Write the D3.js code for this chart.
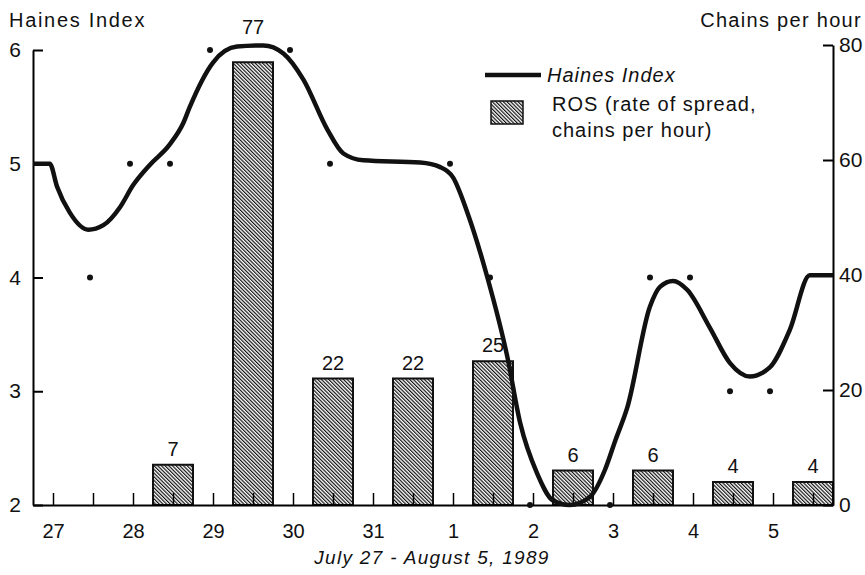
<!DOCTYPE html>
<html>
<head>
<meta charset="utf-8">
<script src="https://cdn.jsdelivr.net/npm/d3@7"></script>
<style>
  body { margin: 0; background: #fff; }
  text { font-family: "Liberation Sans", Arial, Helvetica, sans-serif; fill: #111; }
</style>
</head>
<body>
<div id="chart"></div>
<script>
// day labels, placed at t = 0, 1, 2 ... (days since July 27)
const dayLabels = ['27', '28', '29', '30', '31', '1', '2', '3', '4', '5'];

// ROS bars (chains per hour), centred at mid-day
const rosDays = [1.5, 2.5, 3.5, 4.5, 5.5, 6.5, 7.5, 8.5, 9.5];
const rosValues = [7, 77, 22, 22, 25, 6, 6, 4, 4];

// observed Haines index readings (dots)
const obsDays = [0.5, 1, 1.5, 2, 3, 3.5, 5, 5.5, 6, 7, 7.5, 8, 8.5, 9];
const obsValues = [4, 5, 5, 6, 6, 5, 5, 4, 2, 2, 4, 4, 3, 3];

// smoothed Haines index curve
const curveDays = [-0.25, -0.04, 0.05, 0.21, 0.44, 0.63, 0.84, 1.0, 1.21, 1.46, 1.63, 1.71, 2.0, 2.3, 2.63,
  2.88, 3.13, 3.43, 3.63, 3.88, 4.59, 4.84, 5.0, 5.18, 5.43, 5.68, 5.84, 6.05, 6.25, 6.46, 6.71, 6.9,
  7.03, 7.18, 7.46, 7.59, 7.75, 7.93, 8.21, 8.46, 8.71, 8.96, 9.21, 9.46, 9.75];
const curveValues = [5.0, 5.0, 4.8, 4.57, 4.42, 4.46, 4.62, 4.81, 4.99, 5.17, 5.36, 5.5, 5.89, 6.03, 6.04,
  5.97, 5.74, 5.3, 5.09, 5.03, 5.01, 4.97, 4.88, 4.57, 4.0, 3.3, 2.72, 2.28, 2.04, 2.0, 2.07, 2.31,
  2.57, 2.86, 3.74, 3.92, 3.97, 3.89, 3.56, 3.25, 3.13, 3.21, 3.54, 4.02, 4.02];

const haTicks = [2, 3, 4, 5, 6];
const rosTicks = [0, 20, 40, 60, 80];

const W = 865, H = 575;
const svg = d3.select('#chart').append('svg').attr('width', W).attr('height', H);

// hatch pattern
const defs = svg.append('defs');
defs.append('pattern')
  .attr('id', 'hatch')
  .attr('patternUnits', 'userSpaceOnUse')
  .attr('width', 2.6)
  .attr('height', 10)
  .attr('patternTransform', 'rotate(-45)')
  .call(p => {
    p.append('rect').attr('width', 2.6).attr('height', 10).attr('fill', '#fff');
    p.append('line').attr('x1', 0.6).attr('x2', 0.6).attr('y1', 0).attr('y2', 10)
      .attr('stroke', '#111').attr('stroke-width', 1.2);
  });

const x = d3.scaleLinear().domain([-0.25, 9.75]).range([33, 833]);
const yHa = d3.scaleLinear().domain([2, 6]).range([505, 50]);
const yRos = d3.scaleLinear().domain([0, 80]).range([505, 45]);

// bars
svg.append('g')
  .selectAll('rect')
  .data(rosDays)
  .join('rect')
  .attr('x', d => x(d - 0.25))
  .attr('width', x(0.5) - x(0))
  .attr('y', (d, i) => yRos(rosValues[i]))
  .attr('height', (d, i) => yRos(0) - yRos(rosValues[i]))
  .attr('fill', 'url(#hatch)')
  .attr('stroke', '#111')
  .attr('stroke-width', 2);

// bar labels
svg.append('g')
  .selectAll('text')
  .data(rosDays)
  .join('text')
  .attr('x', d => x(d))
  .attr('y', (d, i) => rosValues[i] > 70 ? 34 : yRos(rosValues[i]) - 9)
  .attr('text-anchor', 'middle')
  .style('font-size', '20px')
  .text((d, i) => rosValues[i]);

// x axis
const xTicks = d3.range(0, 10, 0.5);
const axisX = d3.axisBottom(x)
  .tickValues(xTicks)
  .tickSize(-12)
  .tickSizeOuter(0)
  .tickPadding(19)
  .tickFormat(d => Number.isInteger(d) ? dayLabels[d] : '');
svg.append('g')
  .attr('transform', `translate(0,${yHa(2)})`)
  .call(axisX)
  .call(g => g.select('.domain').attr('stroke-width', 2))
  .call(g => g.selectAll('.tick line').attr('stroke-width', 1.5))
  .call(g => g.selectAll('text').style('font-size', '20px').attr('fill', '#111'));

// left axis
svg.append('g')
  .attr('transform', `translate(${x(-0.25)},0)`)
  .call(d3.axisLeft(yHa).tickValues(haTicks).tickSize(-10).tickSizeOuter(0).tickPadding(12).tickFormat(d3.format('d')))
  .call(g => g.select('.domain').attr('stroke-width', 2))
  .call(g => g.selectAll('.tick line').attr('stroke-width', 2))
  .call(g => g.selectAll('text').style('font-size', '21px').attr('fill', '#111'));

// right axis
svg.append('g')
  .attr('transform', `translate(${x(9.75)},0)`)
  .call(d3.axisRight(yRos).tickValues(rosTicks).tickSize(-10).tickSizeOuter(0).tickPadding(6).tickFormat(d3.format('d')))
  .call(g => g.select('.domain').attr('stroke-width', 2))
  .call(g => g.selectAll('.tick line').attr('stroke-width', 2))
  .call(g => g.selectAll('text').style('font-size', '21px').attr('fill', '#111'));

// Haines index curve
const line = d3.line()
  .x(d => x(d[0]))
  .y(d => yHa(d[1]))
  .curve(d3.curveMonotoneX);
svg.append('path')
  .datum(curveDays.map((d, i) => [d, curveValues[i]]))
  .attr('d', line)
  .attr('fill', 'none')
  .attr('stroke', '#111')
  .attr('stroke-width', 4.5)
  .attr('stroke-linejoin', 'round');

// observation dots
svg.append('g')
  .selectAll('circle')
  .data(obsDays)
  .join('circle')
  .attr('cx', d => x(d) - 3)
  .attr('cy', (d, i) => yHa(obsValues[i]))
  .attr('r', 3)
  .attr('fill', '#111');

// axis titles
svg.append('text').attr('x', 9).attr('y', 27)
  .style('font-size', '20px').style('letter-spacing', '1.7px').text('Haines Index');
svg.append('text').attr('x', 862).attr('y', 27).attr('text-anchor', 'end')
  .style('font-size', '20px').style('letter-spacing', '1.3px').text('Chains per hour');
svg.append('text').attr('x', 432).attr('y', 564).attr('text-anchor', 'middle')
  .style('font-size', '19px').style('font-style', 'italic').style('letter-spacing', '1.3px')
  .text('July 27 - August 5, 1989');

// legend
const lg = svg.append('g');
lg.append('line').attr('x1', 485).attr('x2', 541).attr('y1', 75).attr('y2', 75)
  .attr('stroke', '#111').attr('stroke-width', 4.5);
lg.append('text').attr('x', 547).attr('y', 82)
  .style('font-size', '20px').style('font-style', 'italic').style('letter-spacing', '1px').text('Haines Index');
lg.append('rect').attr('x', 491).attr('y', 101).attr('width', 32).attr('height', 23)
  .attr('fill', 'url(#hatch)').attr('stroke', '#111').attr('stroke-width', 1.5);
lg.append('text').attr('x', 552).attr('y', 111)
  .style('font-size', '20px').style('letter-spacing', '1px').text('ROS (rate of spread,');
lg.append('text').attr('x', 552).attr('y', 137)
  .style('font-size', '20px').style('letter-spacing', '1px').text('chains per hour)');
</script>
</body>
</html>
